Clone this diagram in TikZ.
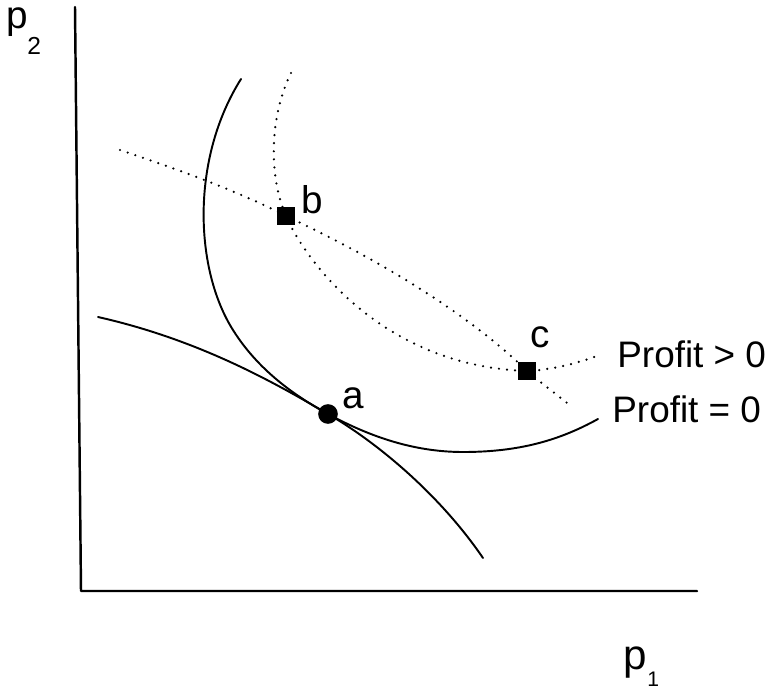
\documentclass[tikz,border=0pt]{standalone}
\usepackage{fontspec}
\setmainfont{Liberation Sans}
\begin{document}
\begin{tikzpicture}[x=0.02cm, y=-0.02cm, line cap=round, line join=round,
  every node/.style={inner sep=0pt, font=\fontsize{22}{22}\selectfont},
  curve/.style={line width=1.1pt},
  dotline/.style={line width=1.4pt, dash pattern=on 0pt off 4.6pt},
  sqmark/.style={rectangle, fill, minimum size=10.5pt},
  dotmark/.style={circle, fill, minimum size=11.2pt}]
  \useasboundingbox (0,0) rectangle (767,690);
  \coordinate (Y)  at (75,7);
  \coordinate (O)  at (81,591);
  \coordinate (X)  at (697,591);
  \coordinate (A)  at (328,414);
  \coordinate (B)  at (286,216);
  \coordinate (C)  at (527,371);

  % axes
  \draw[line width=1.4pt] (Y)--(O)--(X);

  % profit = 0 and its tangent
  \draw[curve] (241,79) .. controls (190,160) and (195,270) .. (233,330)
    .. controls (258,370) and (295,396) .. (A)
    .. controls (365,434) and (410,452) .. (463,452)
    .. controls (520,452) and (560,440) .. (598,419);
  \draw[curve] (98,317) .. controls (200,340) and (275,383) .. (A)
    .. controls (378,443) and (440,495) .. (483,558);

  % profit > 0 and the line through b and c
  \draw[dotline] (291,73) .. controls (270,115) and (268,175) .. (B)
    .. controls (304,258) and (380,366) .. (C)
    .. controls (550,370) and (575,364) .. (597,356);
  \draw[dotline] (120,150) .. controls (180,170) and (240,192) .. (B)
    .. controls (380,260) and (470,315) .. (C)
    .. controls (545,386) and (560,397) .. (572,407);

  \node[dotmark] (a) at (A) {};
  \node[sqmark] (b) at (B) {};
  \node[sqmark] (c) at (C) {};

  \node[anchor=base west] (la) at (342,408) {a};
  \node[anchor=base west] (lb) at (301,213) {b};
  \node[anchor=base west] (lc) at (530,347) {c};
  \node[anchor=base west, font=\fontsize{21}{21}\selectfont] (lpos) at (617,367) {Profit > 0};
  \node[anchor=base west, font=\fontsize{21}{21}\selectfont] (lzero) at (612,422) {Profit = 0};

  \node[anchor=base west, font=\fontsize{22}{22}\selectfont] (ptwo) at (6,28) {p};
  \node[anchor=north west, font=\fontsize{14}{14}\selectfont] (stwo) at (27,37) {2};
  \node[anchor=base west, font=\fontsize{24}{24}\selectfont] (pone) at (623,669) {p};
  \node[anchor=north west, font=\fontsize{12}{12}\selectfont] (sone) at (647,672) {1};
\end{tikzpicture}
\end{document}
